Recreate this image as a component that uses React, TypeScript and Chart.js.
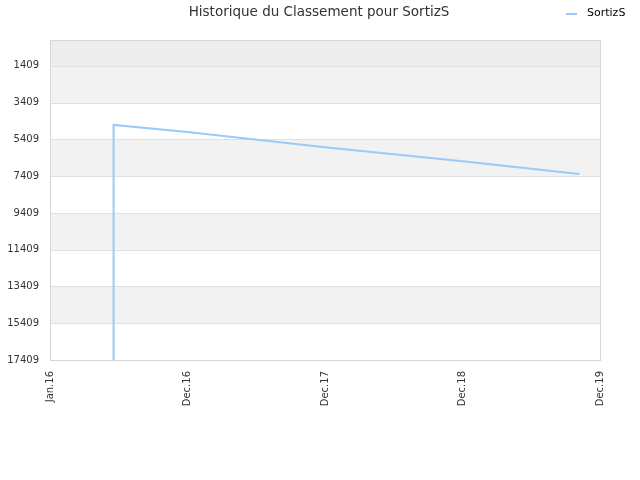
import React, { useEffect, useRef } from "react";
import { Chart, registerables } from "chart.js";

Chart.register(...registerables);

const TITLE = "Historique du Classement pour SortizS";
const SERIES_NAME = "SortizS";
// x in months since Jan.16
const monthsX = [5.5, 5.55, 12, 24, 36, 46.2];
const ranks = [17409, 4620, 5010, 5830, 6600, 7290];
const xTickMonths = [0, 12, 24, 36, 48];
const xTickLabels = ["Jan.16", "Dec.16", "Dec.17", "Dec.18", "Dec.19"];
const yTicks = [1409, 3409, 5409, 7409, 9409, 11409, 13409, 15409, 17409];

const LINE_COLOR = "#9ccaf8";
const FONT = "'DejaVu Sans', sans-serif";

const decorPlugin = {
  id: "decor",
  beforeDatasetsDraw(chart: any) {
    const { ctx, chartArea: a, scales } = chart;
    const y = scales.y;
    ctx.save();
    const bounds = [0, ...yTicks];
    for (let i = 0; i < bounds.length - 1; i++) {
      const y0 = y.getPixelForValue(bounds[i]);
      const y1 = y.getPixelForValue(bounds[i + 1]);
      let fill: string | null = null;
      if (i === 0) fill = "#ededed";
      else if (i % 2 === 1) fill = "#f2f2f2";
      if (fill) {
        ctx.fillStyle = fill;
        ctx.fillRect(a.left, y0, a.right - a.left, y1 - y0);
      }
    }
    ctx.strokeStyle = "#e0e0e0";
    ctx.lineWidth = 1;
    for (const t of yTicks) {
      const py = Math.round(y.getPixelForValue(t)) + 0.5;
      ctx.beginPath();
      ctx.moveTo(a.left, py);
      ctx.lineTo(a.right, py);
      ctx.stroke();
    }
    ctx.strokeStyle = "#d6d6d6";
    ctx.strokeRect(Math.round(a.left) + 0.5, Math.round(a.top) + 0.5, Math.round(a.right - a.left), Math.round(a.bottom - a.top));
    ctx.restore();
  },
  afterDraw(chart: any) {
    const { ctx } = chart;
    ctx.save();
    ctx.fillStyle = "#333333";
    ctx.font = `13.5px ${FONT}`;
    ctx.textAlign = "center";
    ctx.textBaseline = "middle";
    ctx.fillText(TITLE, 319, 12);
    ctx.strokeStyle = LINE_COLOR;
    ctx.lineWidth = 2;
    ctx.beginPath();
    ctx.moveTo(566, 14);
    ctx.lineTo(577, 14);
    ctx.stroke();
    ctx.fillStyle = "#000000";
    ctx.font = `11px ${FONT}`;
    ctx.textAlign = "left";
    ctx.fillText(SERIES_NAME, 587, 13);
    ctx.restore();
  },
};

export default function App() {
  const ref = useRef<HTMLCanvasElement>(null);
  useEffect(() => {
    document.body.style.margin = "0";
    const chart = new Chart(ref.current as HTMLCanvasElement, {
      type: "line",
      data: {
        datasets: [
          {
            label: SERIES_NAME,
            data: monthsX.map((x, i) => ({ x, y: ranks[i] })),
            borderColor: LINE_COLOR,
            borderWidth: 2,
            pointRadius: 0,
            tension: 0,
            fill: false,
          },
        ],
      },
      options: {
        animation: false,
        responsive: false,
        layout: { padding: { top: 40, right: 40, left: 0, bottom: 0 } },
        plugins: { legend: { display: false }, title: { display: false }, tooltip: { enabled: false } },
        scales: {
          x: {
            type: "linear",
            min: 0,
            max: 48,
            afterBuildTicks: (s: any) => {
              s.ticks = xTickMonths.map((v) => ({ value: v }));
            },
            afterFit: (s: any) => {
              s.height = 120;
            },
            grid: { display: false, drawTicks: false },
            border: { display: false },
            ticks: {
              autoSkip: false,
              maxRotation: 90,
              minRotation: 90,
              padding: 11,
              color: "#333333",
              font: { family: FONT, size: 10 },
              callback: (v: any) => {
                const i = xTickMonths.indexOf(Number(v));
                return i >= 0 ? xTickLabels[i] : "";
              },
            },
          },
          y: {
            type: "linear",
            reverse: true,
            min: 0,
            max: 17409,
            afterBuildTicks: (s: any) => {
              s.ticks = yTicks.map((v) => ({ value: v }));
            },
            afterFit: (s: any) => {
              s.width = 50;
            },
            grid: { display: false, drawTicks: false },
            border: { display: false },
            ticks: {
              autoSkip: false,
              padding: 11,
              color: "#333333",
              font: { family: FONT, size: 10 },
              callback: (v: any) => String(v),
            },
          },
        },
      },
      plugins: [decorPlugin],
    } as any);
    return () => chart.destroy();
  }, []);
  return (
    <div style={{ width: 640, height: 480 }}>
      <canvas ref={ref} width={640} height={480} style={{ display: "block" }} />
    </div>
  );
}
